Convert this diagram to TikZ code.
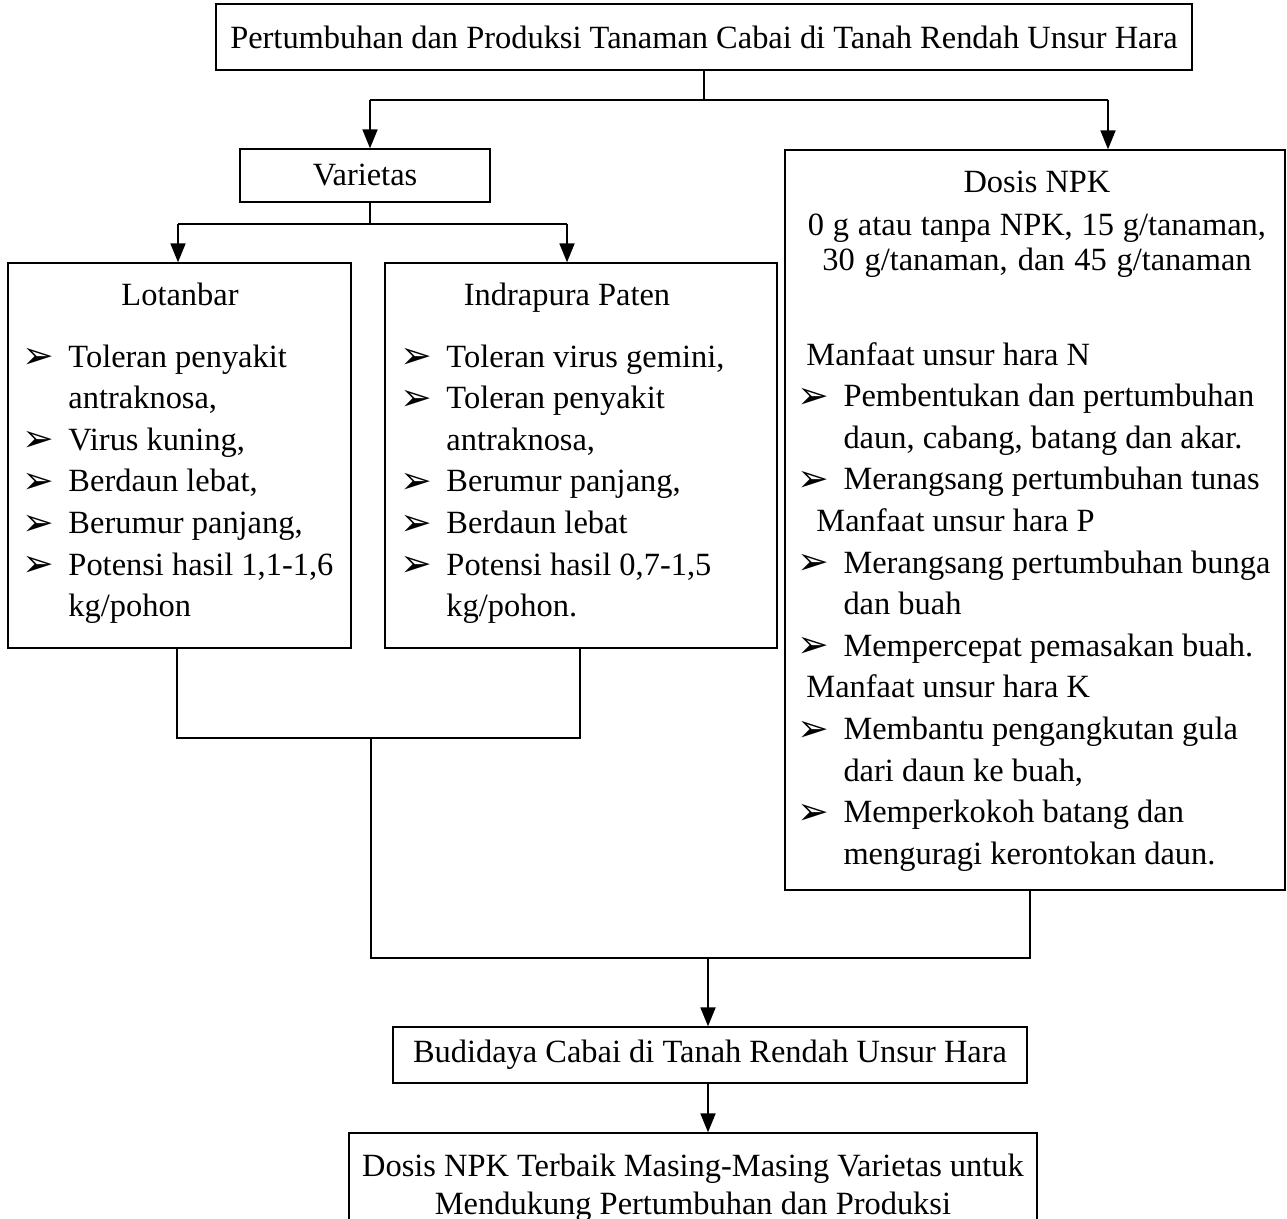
\documentclass[tikz,border=0pt]{standalone}
\usepackage{fontspec}
\setmainfont{Liberation Serif}
\newfontfamily\arrowfont{DejaVu Sans}
\usetikzlibrary{arrows.meta}
\newcommand{\pw}{0.37pt}
\newcommand{\bl}{\makebox[17pt][l]{\raisebox{-0.6pt}{\arrowfont\fontsize{14}{14}\selectfont ➢}}}
\newcommand{\ind}{\hspace*{17pt}}
\tikzset{
  plain/.style={execute at begin node={\spaceskip=0pt\xspaceskip=0pt\relax}},
  box/.style={draw,line width=0.5pt,inner sep=0pt,plain,font=\fontsize{12}{14}\selectfont},
  head/.style={anchor=base,inner sep=0pt,plain,font=\fontsize{12}{14}\selectfont},
  list/.style={anchor=base west,inner sep=0pt,align=left,plain,font=\fontsize{12}{15.4}\selectfont},
  link/.style={line width=0.5pt},
  arr/.style={line width=0.8pt,-{Triangle[width=5.5pt,length=7pt]}}
}
\begin{document}
\begin{tikzpicture}[x=0.37pt,y=-0.37pt]
\useasboundingbox (0,0) rectangle (1287,1218);
% boxes
\node[box,minimum width=976*\pw,minimum height=66*\pw] (title) at (704,37)
  {Pertumbuhan dan Produksi Tanaman Cabai di Tanah Rendah Unsur Hara};
\node[box,minimum width=250*\pw,minimum height=53*\pw] (varietas) at (365,175.5) {Varietas};
\node[box,minimum width=343*\pw,minimum height=385*\pw] (lotanbar) at (179.5,455.5) {};
\node[box,minimum width=392*\pw,minimum height=385*\pw] (indrapura) at (581,455.5) {};
\node[box,minimum width=500*\pw,minimum height=740*\pw] (dosis) at (1035,520) {};
\node[box,minimum width=634*\pw,minimum height=56*\pw] (budidaya) at (710,1055) {Budidaya Cabai di Tanah Rendah Unsur Hara};
\node[box,minimum width=688*\pw,minimum height=110*\pw,align=center,font=\fontsize{12}{14}\selectfont] (terbaik) at (693,1188)
  {Dosis NPK Terbaik Masing-Masing Varietas untuk\\Mendukung Pertumbuhan dan Produksi};
% box texts
\node[head] (lotanbarhead) at (180,305) {Lotanbar};
\node[list,text width=330*\pw] (lotanbartext) at (22,367) {%
  \bl Toleran penyakit\\ \ind antraknosa,\\ \bl Virus kuning,\\ \bl Berdaun lebat,\\
  \bl Berumur panjang,\\ \bl Potensi hasil 1,1-1,6\\ \ind kg/pohon};
\node[head] (indrapurahead) at (567,305) {Indrapura Paten};
\node[list,text width=370*\pw] (indrapuratext) at (400,367) {%
  \bl Toleran virus gemini,\\ \bl Toleran penyakit\\ \ind antraknosa,\\ \bl Berumur panjang,\\
  \bl Berdaun lebat\\ \bl Potensi hasil 0,7-1,5\\ \ind kg/pohon.};
\node[head,text width=480*\pw,align=center,font=\fontsize{12}{13}\selectfont] (dosishead) at (1037,192)
  {\mbox{Dosis NPK}\\[3pt]0 g atau tanpa NPK, 15 g/tanaman,\\30 g/tanaman, dan 45 g/tanaman};
\node[list,text width=480*\pw] (dosistext) at (797,365) {%
  \hspace*{3.3pt}Manfaat unsur hara N\\ \bl Pembentukan dan pertumbuhan\\ \ind daun, cabang, batang dan akar.\\
  \bl Merangsang pertumbuhan tunas\\ \hspace*{7pt}Manfaat unsur hara P\\ \bl Merangsang pertumbuhan bunga\\
  \ind dan buah\\ \bl Mempercepat pemasakan buah.\\ \hspace*{3.3pt}Manfaat unsur hara K\\
  \bl Membantu pengangkutan gula\\ \ind dari daun ke buah,\\ \bl Memperkokoh batang dan\\
  \ind menguragi kerontokan daun.};
% connectors
\coordinate (topsplit) at (704,100);
\coordinate (tovarietas) at (370,100);
\coordinate (todosis) at (1108,100);
\draw[link] (title.south) -- (topsplit);
\draw[link] (tovarietas) -- (todosis);
\draw[arr] (tovarietas) -- (tovarietas |- varietas.north);
\draw[arr] (todosis) -- (todosis |- dosis.north);
\coordinate (varsplit) at (370,224);
\coordinate (tolotanbar) at (178,224);
\coordinate (toindrapura) at (567,224);
\draw[link] (varsplit |- varietas.south) -- (varsplit);
\draw[link] (tolotanbar) -- (toindrapura);
\draw[arr] (tolotanbar) -- (tolotanbar |- lotanbar.north);
\draw[arr] (toindrapura) -- (toindrapura |- indrapura.north);
\coordinate (lotanbarout) at (177,738);
\coordinate (indrapuraout) at (580,738);
\coordinate (varjoin) at (371,738);
\coordinate (varjoindown) at (371,958);
\coordinate (dosisout) at (1030,958);
\coordinate (mainjoin) at (708,958);
\draw[link] (lotanbarout |- lotanbar.south) -- (lotanbarout) -- (indrapuraout) -- (indrapuraout |- indrapura.south);
\draw[link] (varjoin) -- (varjoindown) -- (dosisout) -- (dosisout |- dosis.south);
\draw[arr] (mainjoin) -- (mainjoin |- budidaya.north);
\draw[arr] (mainjoin |- budidaya.south) -- (mainjoin |- terbaik.north);
\end{tikzpicture}
\end{document}
